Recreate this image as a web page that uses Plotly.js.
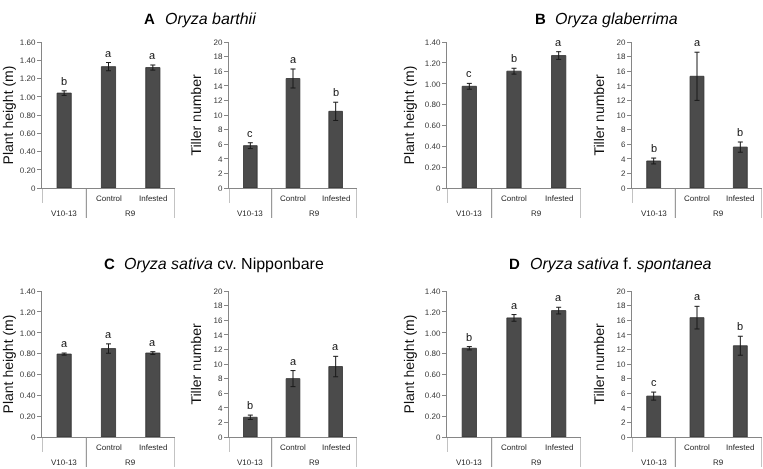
<!DOCTYPE html>
<html>
<head>
<meta charset="utf-8">
<script src="https://cdn.plot.ly/plotly-3.0.1.min.js"></script>
<style>
html,body{margin:0;padding:0;background:#fff;}
#chart{width:763px;height:469px;will-change:transform;opacity:0.999;}
svg text{text-rendering:geometricPrecision;}
</style>
</head>
<body>
<div id="chart"></div>
<script>
// ---- data ----
const groups = ["V10-13", "Control", "Infested"];
const groupParent = ["V10-13", "R9"];

const heightA = [1.04, 1.33, 1.32];
const heightAErr = [0.025, 0.045, 0.028];
const heightALetters = ["b", "a", "a"];
const tillerA = [5.8, 15.0, 10.5];
const tillerAErr = [0.4, 1.3, 1.25];
const tillerALetters = ["c", "a", "b"];

const heightB = [0.975, 1.12, 1.27];
const heightBErr = [0.028, 0.028, 0.037];
const heightBLetters = ["c", "b", "a"];
const tillerB = [3.7, 15.3, 5.6];
const tillerBErr = [0.4, 3.3, 0.7];
const tillerBLetters = ["b", "a", "b"];

const heightC = [0.795, 0.848, 0.805];
const heightCErr = [0.01, 0.045, 0.013];
const heightCLetters = ["a", "a", "a"];
const tillerC = [2.7, 8.0, 9.65];
const tillerCErr = [0.3, 1.1, 1.4];
const tillerCLetters = ["b", "a", "a"];

const heightD = [0.851, 1.142, 1.212];
const heightDErr = [0.016, 0.032, 0.032];
const heightDLetters = ["b", "a", "a"];
const tillerD = [5.6, 16.35, 12.5];
const tillerDErr = [0.55, 1.55, 1.3];
const tillerDLetters = ["c", "a", "b"];

const heightTicksLong = [0, 0.2, 0.4, 0.6, 0.8, 1.0, 1.2, 1.4, 1.6];
const heightTicksShort = [0, 0.2, 0.4, 0.6, 0.8, 1.0, 1.2, 1.4];
const tillerTicks = [0, 2, 4, 6, 8, 10, 12, 14, 16, 18, 20];

const panelTitles = [
  {letter: "A", name: "<i>Oryza barthii</i>"},
  {letter: "B", name: "<i>Oryza glaberrima</i>"},
  {letter: "C", name: "<i>Oryza sativa</i> cv. Nipponbare"},
  {letter: "D", name: "<i>Oryza sativa</i> f. <i>spontanea</i>"}
];

// ---- layout helpers ----
const W = 763, H = 469;
const FONT = "Liberation Sans, Arial, sans-serif";
const gray = "#868686";

const panels = [
  {vals: heightA, err: heightAErr, letters: heightALetters, ticks: heightTicksLong, max: 1.6, title: "Plant height (m)", px: [42, 175], py: [42, 188]},
  {vals: tillerA, err: tillerAErr, letters: tillerALetters, ticks: tillerTicks, max: 20, title: "Tiller number", px: [229, 357], py: [42, 188]},
  {vals: heightB, err: heightBErr, letters: heightBLetters, ticks: heightTicksShort, max: 1.4, title: "Plant height (m)", px: [447, 581], py: [42, 188]},
  {vals: tillerB, err: tillerBErr, letters: tillerBLetters, ticks: tillerTicks, max: 20, title: "Tiller number", px: [632, 762], py: [42, 188]},
  {vals: heightC, err: heightCErr, letters: heightCLetters, ticks: heightTicksShort, max: 1.4, title: "Plant height (m)", px: [42, 175], py: [291, 437]},
  {vals: tillerC, err: tillerCErr, letters: tillerCLetters, ticks: tillerTicks, max: 20, title: "Tiller number", px: [229, 357], py: [291, 437]},
  {vals: heightD, err: heightDErr, letters: heightDLetters, ticks: heightTicksShort, max: 1.4, title: "Plant height (m)", px: [447, 581], py: [291, 437]},
  {vals: tillerD, err: tillerDErr, letters: tillerDLetters, ticks: tillerTicks, max: 20, title: "Tiller number", px: [632, 762], py: [291, 437]}
];

const titlePos = [
  {lx: 142, tx: 163, y: 20},
  {lx: 533, tx: 553, y: 20},
  {lx: 102, tx: 122, y: 264},
  {lx: 507, tx: 528, y: 264}
];

function tickText(v, isHeight) {
  if (v === 0) return "0";
  return isHeight ? v.toFixed(2) : String(v);
}

const traces = [];
const layout = {
  width: W, height: H,
  margin: {l: 0, r: 0, t: 0, b: 0},
  paper_bgcolor: "#fff", plot_bgcolor: "#fff",
  showlegend: false,
  font: {family: FONT, color: "#222"},
  annotations: [], shapes: []
};

panels.forEach((p, i) => {
  const n = i + 1;
  const xa = n === 1 ? "x" : "x" + n;
  const ya = n === 1 ? "y" : "y" + n;
  const xk = n === 1 ? "xaxis" : "xaxis" + n;
  const yk = n === 1 ? "yaxis" : "yaxis" + n;
  const isHeight = p.max < 5;
  const plotH = p.py[1] - p.py[0];

  traces.push({
    type: "bar", x: [0, 1, 2], y: p.vals, xaxis: xa, yaxis: ya,
    width: 0.32,
    marker: {color: "#4b4b4b", line: {color: "#2e2e2e", width: 0.8}},
    error_y: {type: "data", array: p.err, visible: true, color: "#1a1a1a", thickness: 1, width: 2.5},
    hoverinfo: "skip"
  });

  layout[xk] = {
    domain: [p.px[0] / W, p.px[1] / W],
    anchor: ya, range: [-0.5, 2.5], fixedrange: true,
    showgrid: false, zeroline: false, showticklabels: false, ticks: "",
    showline: true, linecolor: gray, linewidth: 1
  };
  layout[yk] = {
    domain: [1 - p.py[1] / H, 1 - p.py[0] / H],
    anchor: xa, range: [0, p.max], fixedrange: true,
    showgrid: false, zeroline: false,
    showline: true, linecolor: gray, linewidth: 1,
    ticks: "outside", ticklen: 4, tickcolor: gray, tickwidth: 1,
    tickvals: p.ticks, ticktext: p.ticks.map(v => tickText(v, isHeight)),
    tickfont: {family: FONT, size: 8, color: "#333"},
    title: {text: p.title, font: {family: FONT, size: 14, color: "#111"}, standoff: isHeight ? 6 : 8}
  };

  // significance letters
  p.vals.forEach((v, k) => {
    layout.annotations.push({
      xref: xa, yref: ya, x: k, y: v + p.err[k], text: p.letters[k],
      showarrow: false, yanchor: "bottom", yshift: 1,
      font: {family: FONT, size: 11, color: "#111"}
    });
  });

  // category labels
  const lvl1 = -10 / plotH, lvl2 = -25 / plotH;
  [1, 2].forEach(k => {
    layout.annotations.push({
      xref: xa, yref: ya + " domain", x: k, y: lvl1, text: groups[k],
      showarrow: false, yanchor: "middle",
      font: {family: FONT, size: 8, color: "#222"}
    });
  });
  layout.annotations.push({
    xref: xa, yref: ya + " domain", x: 0, y: lvl2, text: groupParent[0],
    showarrow: false, yanchor: "middle", font: {family: FONT, size: 8, color: "#222"}
  });
  layout.annotations.push({
    xref: xa, yref: ya + " domain", x: 1.5, y: lvl2, text: groupParent[1],
    showarrow: false, yanchor: "middle", font: {family: FONT, size: 8, color: "#222"}
  });

  // multi-level axis separator lines
  const lineStyle = {color: gray, width: 1};
  layout.shapes.push({type: "line", xref: xa, yref: ya + " domain", x0: -0.5, x1: -0.5, y0: 0, y1: -15 / plotH, line: lineStyle});
  layout.shapes.push({type: "line", xref: xa, yref: ya + " domain", x0: 0.5, x1: 0.5, y0: 0, y1: -30 / plotH, line: lineStyle});
  layout.shapes.push({type: "line", xref: xa, yref: ya + " domain", x0: 2.5, x1: 2.5, y0: 0, y1: -30 / plotH, line: lineStyle});
});

panelTitles.forEach((t, i) => {
  const pos = titlePos[i];
  layout.annotations.push({
    xref: "paper", yref: "paper", x: pos.lx / W, y: 1 - pos.y / H, text: "<b>" + t.letter + "</b>",
    showarrow: false, xanchor: "left", yanchor: "middle",
    font: {family: FONT, size: 15, color: "#000"}
  });
  layout.annotations.push({
    xref: "paper", yref: "paper", x: pos.tx / W, y: 1 - pos.y / H, text: t.name,
    showarrow: false, xanchor: "left", yanchor: "middle",
    font: {family: FONT, size: 16, color: "#000"}
  });
});

Plotly.newPlot("chart", traces, layout, {staticPlot: true, displayModeBar: false});
</script>
</body>
</html>
